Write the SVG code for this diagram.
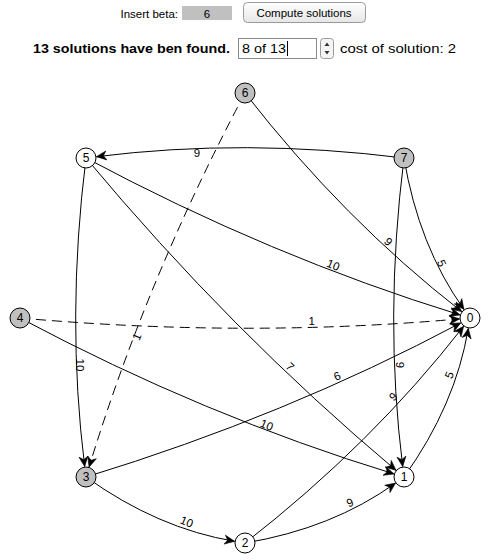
<svg xmlns="http://www.w3.org/2000/svg" width="498" height="560" viewBox="0 0 498 560">
<defs>
<marker id="arr" viewBox="0 -5 11 10" markerWidth="11" markerHeight="10" refX="10" refY="0" orient="auto" markerUnits="userSpaceOnUse" overflow="visible">
<path d="M10,0 L0,-4.5 L3,0 L0,4.5 Z" fill="#000" stroke="#000" stroke-width="0.6" stroke-linejoin="miter"/>
</marker>
<linearGradient id="btn" x1="0" y1="0" x2="0" y2="1">
<stop offset="0" stop-color="#ffffff"/>
<stop offset="1" stop-color="#e6e6e6"/>
</linearGradient>
</defs>
<style>
.ui{font-family:"Liberation Sans","DejaVu Sans",Arial,sans-serif;fill:#000}
.e{fill:none;stroke:#000;stroke-width:1;marker-end:url(#arr)}
.d{stroke-dasharray:10,6}
.lbl{font-family:"Liberation Sans","DejaVu Sans",Arial,sans-serif;font-size:11.5px;fill:#000;text-anchor:middle;dominant-baseline:central}
.n circle{stroke:#000;stroke-width:1}
.w{fill:#fff}
.g{fill:#c0c0c0}
.n text{font-family:"Liberation Sans","DejaVu Sans",Arial,sans-serif;font-size:12px;fill:#000;text-anchor:middle;dominant-baseline:central}
</style>
<rect width="498" height="560" fill="#fff"/>
<g id="controls">
<text class="ui" x="178" y="18" font-size="11.5" text-anchor="end">Insert beta:</text>
<rect x="182" y="6" width="50" height="14" fill="#c0c0c0"/>
<text class="ui" x="207" y="17.5" font-size="11.5" text-anchor="middle">6</text>
<rect x="243.5" y="2.5" width="122" height="20" rx="4" fill="url(#btn)" stroke="#9a9a9a"/>
<text class="ui" x="304" y="16.5" font-size="11.5" text-anchor="middle">Compute solutions</text>
<text class="ui" x="33" y="53" font-size="13" font-weight="bold" textLength="197" lengthAdjust="spacingAndGlyphs">13 solutions have ben found.</text>
<rect x="238.5" y="38.5" width="78" height="20" fill="#fff" stroke="#8a8a8a"/>
<text class="ui" x="242" y="53" font-size="13" textLength="44" lengthAdjust="spacingAndGlyphs">8 of 13</text>
<line x1="287.5" y1="41" x2="287.5" y2="56" stroke="#000"/>
<rect x="320.5" y="38.5" width="13" height="20" rx="3" fill="#f4f4f4" stroke="#9a9a9a"/>
<path d="M324.5,46 L327,42.5 L329.5,46 Z M324.5,51 L327,54.5 L329.5,51 Z" fill="#333"/>
<text class="ui" x="340" y="53" font-size="13" textLength="116" lengthAdjust="spacingAndGlyphs">cost of solution: 2</text>
</g>
<g id="edges">
<path class="e" d="M404,158 Q245,138 96.4,156.7"/>
<path class="e" d="M245,93 Q343.4,219.6 461.7,311.6"/>
<path class="e" d="M404,158 Q418.5,245.6 463.9,309.4"/>
<path class="e" d="M86,158 Q270.3,256.5 460,314.9"/>
<path class="e d" d="M20,318 Q245,338 459.5,318.9"/>
<path class="e" d="M86,158 Q66,317.5 84.7,466.6"/>
<path class="e d" d="M245,93 Q147,277.4 89.1,467"/>
<path class="e" d="M86,158 Q230.8,331.6 396,470.3"/>
<path class="e" d="M86,477 Q285.7,416 460.7,322.9"/>
<path class="e" d="M20,318 Q204.3,416 394,473.9"/>
<path class="e" d="M404,158 Q384,317.5 402.7,466.6"/>
<path class="e" d="M245,543 Q371.6,444.6 463.6,326.3"/>
<path class="e" d="M404,477 Q455.5,405.2 468.3,328.4"/>
<path class="e" d="M86,477 Q157.8,528.5 234.6,541.3"/>
<path class="e" d="M245,543 Q332.2,528.5 395.5,483.1"/>
</g>
<g id="edge-labels">
<text class="lbl" transform="translate(197,153)">9</text>
<text class="lbl" transform="translate(388.3,241.7) rotate(45)">9</text>
<text class="lbl" transform="translate(441.7,263.3) rotate(67.9)">5</text>
<text class="lbl" transform="translate(333.3,265) rotate(22.6)">10</text>
<text class="lbl" transform="translate(311.7,320.7)">1</text>
<text class="lbl" transform="translate(80,365) rotate(90)">10</text>
<text class="lbl" transform="translate(136.7,336.7) rotate(-67.5)">1</text>
<text class="lbl" transform="translate(290,366.7) rotate(45)">7</text>
<text class="lbl" transform="translate(337.3,376) rotate(-22.5)">6</text>
<text class="lbl" transform="translate(266.7,425) rotate(22.5)">10</text>
<text class="lbl" transform="translate(400,365) rotate(90)">9</text>
<text class="lbl" transform="translate(393.3,396.7) rotate(-45)">9</text>
<text class="lbl" transform="translate(449.3,375) rotate(-67.5)">5</text>
<text class="lbl" transform="translate(186.7,521.7) rotate(22.5)">10</text>
<text class="lbl" transform="translate(350,502.7) rotate(-22.5)">9</text>
</g>
<g id="node-0" class="n"><circle class="w" cx="470" cy="318" r="10"/><text x="470" y="318">0</text></g>
<g id="node-1" class="n"><circle class="w" cx="404" cy="477" r="10"/><text x="404" y="477">1</text></g>
<g id="node-2" class="n"><circle class="w" cx="245" cy="543" r="10"/><text x="245" y="543">2</text></g>
<g id="node-3" class="n"><circle class="g" cx="86" cy="477" r="10"/><text x="86" y="477">3</text></g>
<g id="node-4" class="n"><circle class="g" cx="20" cy="318" r="10"/><text x="20" y="318">4</text></g>
<g id="node-5" class="n"><circle class="w" cx="86" cy="158" r="10"/><text x="86" y="158">5</text></g>
<g id="node-6" class="n"><circle class="g" cx="245" cy="93" r="10"/><text x="245" y="93">6</text></g>
<g id="node-7" class="n"><circle class="g" cx="404" cy="158" r="10"/><text x="404" y="158">7</text></g>
</svg>
